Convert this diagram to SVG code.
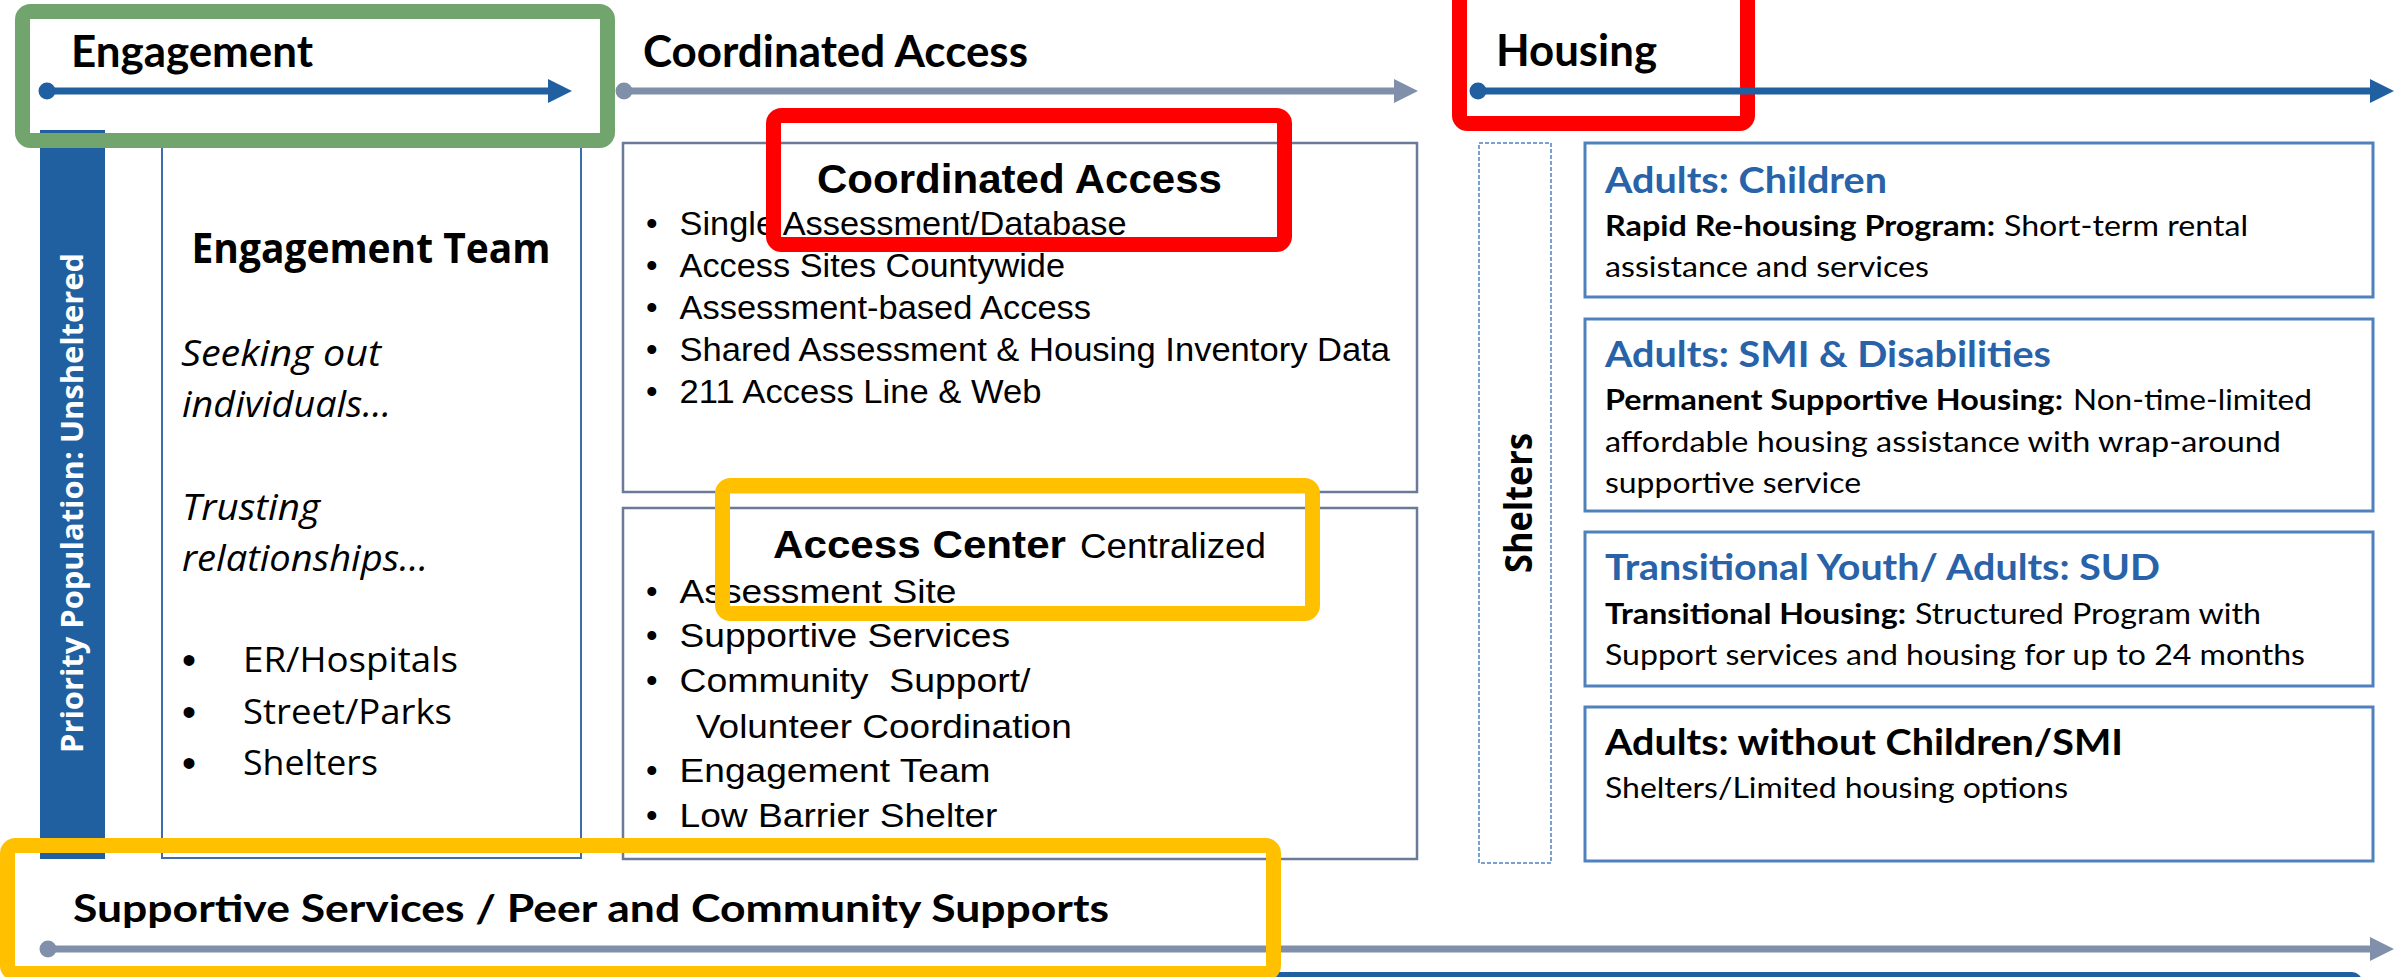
<svg xmlns="http://www.w3.org/2000/svg" width="2394" height="977" viewBox="0 0 2394 977">
<style>
.hdr{font-family:Lato,"Liberation Sans",sans-serif;font-weight:700;font-size:43px;fill:#000}
.cal{font-family:Lato,"Liberation Sans",sans-serif;font-size:29px;fill:#000}
.calb{font-family:Lato,"Liberation Sans",sans-serif;font-size:29px;font-weight:700;fill:#000}
.bh{font-family:Lato,"Liberation Sans",sans-serif;font-size:36px;font-weight:700;fill:#2862A8}
.ari{font-family:"Liberation Sans",Arial,sans-serif;font-size:33px;fill:#000}
.arib{font-family:"Liberation Sans",Arial,sans-serif;font-weight:700;fill:#000}
.seg{font-family:"Open Sans","Noto Sans",sans-serif;fill:#000}
.bul{font-family:"Liberation Sans",Arial,sans-serif;font-size:40px;fill:#000}
.panel{fill:#fff;stroke:#6A7A98;stroke-width:2.5}
.rbox{fill:#fff;stroke:#4F81BD;stroke-width:3}
.hl{fill:none;stroke-width:15}
</style>
<defs>
<marker id="dotB" markerUnits="userSpaceOnUse" markerWidth="20" markerHeight="20" refX="10" refY="10" viewBox="0 0 20 20"><circle cx="10" cy="10" r="8.5" fill="#2160A0"/></marker>
<marker id="dotG" markerUnits="userSpaceOnUse" markerWidth="20" markerHeight="20" refX="10" refY="10" viewBox="0 0 20 20"><circle cx="10" cy="10" r="8.5" fill="#808FAA"/></marker>
<marker id="headB" markerUnits="userSpaceOnUse" markerWidth="24" markerHeight="24" refX="0" refY="12" viewBox="0 0 24 24" orient="auto"><path d="M0,0 L24,12 L0,24 z" fill="#2160A0"/></marker>
<marker id="headG" markerUnits="userSpaceOnUse" markerWidth="24" markerHeight="24" refX="0" refY="12" viewBox="0 0 24 24" orient="auto"><path d="M0,0 L24,12 L0,24 z" fill="#808FAA"/></marker>
</defs>
<rect width="2394" height="977" fill="#fff"/>

<g id="bottom-bar"><rect x="900" y="972" width="1462" height="40" rx="10" fill="#2160A0"/></g>

<g id="priority-bar">
<rect x="40" y="130" width="65" height="729" fill="#2160A0"/>
<text class="seg" font-weight="700" font-size="31" style="fill:#fff" text-anchor="middle" textLength="500" lengthAdjust="spacingAndGlyphs" transform="translate(83,503) rotate(-90)">Priority Population: Unsheltered</text>
</g>

<g id="engagement-team">
<rect x="162" y="143" width="419" height="715" fill="#fff" stroke="#3E6DAF" stroke-width="2"/>
<text class="seg" font-weight="700" font-size="42" x="191.5" y="263" textLength="359" lengthAdjust="spacingAndGlyphs">Engagement Team</text>
<text class="seg" font-style="italic" font-size="37" x="181" y="366" textLength="200" lengthAdjust="spacingAndGlyphs">Seeking out</text>
<text class="seg" font-style="italic" font-size="37" x="182" y="417" textLength="209" lengthAdjust="spacingAndGlyphs">individuals…</text>
<text class="seg" font-style="italic" font-size="37" x="182" y="520" textLength="138" lengthAdjust="spacingAndGlyphs">Trusting</text>
<text class="seg" font-style="italic" font-size="37" x="182" y="571" textLength="246" lengthAdjust="spacingAndGlyphs">relationships…</text>
<text class="bul" x="182" y="674">•</text>
<text class="bul" x="182" y="726">•</text>
<text class="bul" x="182" y="777">•</text>
<text class="seg" font-size="35" x="243" y="672" textLength="215" lengthAdjust="spacingAndGlyphs">ER/Hospitals</text>
<text class="seg" font-size="35" x="243" y="724" textLength="209" lengthAdjust="spacingAndGlyphs">Street/Parks</text>
<text class="seg" font-size="35" x="243" y="775" textLength="135" lengthAdjust="spacingAndGlyphs">Shelters</text>
</g>

<g id="coordinated-access">
<rect class="panel" x="623" y="143" width="794" height="349"/>
<text class="arib" font-size="40" x="817" y="193" textLength="405" lengthAdjust="spacingAndGlyphs">Coordinated Access</text>
<text class="ari" x="646" y="235">•</text>
<text class="ari" x="646" y="277">•</text>
<text class="ari" x="646" y="319">•</text>
<text class="ari" x="646" y="361">•</text>
<text class="ari" x="646" y="403">•</text>
<text class="ari" x="679.5" y="235" textLength="447" lengthAdjust="spacingAndGlyphs">Single Assessment/Database</text>
<text class="ari" x="679.5" y="277" textLength="385.5" lengthAdjust="spacingAndGlyphs">Access Sites Countywide</text>
<text class="ari" x="679.5" y="319" textLength="411.5" lengthAdjust="spacingAndGlyphs">Assessment-based Access</text>
<text class="ari" x="679.5" y="361" textLength="710.5" lengthAdjust="spacingAndGlyphs">Shared Assessment &amp; Housing Inventory Data</text>
<text class="ari" x="679.5" y="403" textLength="362" lengthAdjust="spacingAndGlyphs">211 Access Line &amp; Web</text>
</g>

<g id="access-center">
<rect class="panel" x="623" y="508" width="794" height="351"/>
<text class="arib" font-size="39" x="773" y="558" textLength="293" lengthAdjust="spacingAndGlyphs">Access Center</text>
<text class="ari" style="font-size:35px" x="1080" y="558" textLength="186" lengthAdjust="spacingAndGlyphs">Centralized</text>
<text class="ari" x="646" y="603">•</text>
<text class="ari" x="646" y="647">•</text>
<text class="ari" x="646" y="692">•</text>
<text class="ari" x="646" y="782">•</text>
<text class="ari" x="646" y="827">•</text>
<text class="ari" x="679.5" y="603" textLength="277" lengthAdjust="spacingAndGlyphs">Assessment Site</text>
<text class="ari" x="679.5" y="647" textLength="330.5" lengthAdjust="spacingAndGlyphs">Supportive Services</text>
<text class="ari" x="679.5" y="692" xml:space="preserve" textLength="351" lengthAdjust="spacingAndGlyphs">Community  Support/</text>
<text class="ari" x="696" y="738" textLength="375.7" lengthAdjust="spacingAndGlyphs">Volunteer Coordination</text>
<text class="ari" x="679.5" y="782" textLength="311" lengthAdjust="spacingAndGlyphs">Engagement Team</text>
<text class="ari" x="679.5" y="827" textLength="318" lengthAdjust="spacingAndGlyphs">Low Barrier Shelter</text>
</g>

<g id="shelters">
<rect x="1479" y="143" width="72" height="720" fill="#fff" stroke="#4F81BD" stroke-width="1.5" stroke-dasharray="4 2"/>
<text class="seg" font-weight="700" font-size="37" text-anchor="middle" textLength="140" lengthAdjust="spacingAndGlyphs" transform="translate(1532,503) rotate(-90)">Shelters</text>
</g>

<g id="adults-children">
<rect class="rbox" x="1585" y="143" width="788" height="154"/>
<text class="bh" x="1605" y="193" textLength="282" lengthAdjust="spacingAndGlyphs">Adults: Children</text>
<text class="calb" x="1605" y="236" textLength="390" lengthAdjust="spacingAndGlyphs">Rapid Re-housing Program:</text>
<text class="cal" x="2004" y="236" textLength="244" lengthAdjust="spacingAndGlyphs">Short-term rental</text>
<text class="cal" x="1605" y="277" textLength="324" lengthAdjust="spacingAndGlyphs">assistance and services</text>
</g>

<g id="adults-smi">
<rect class="rbox" x="1585" y="319" width="788" height="192"/>
<text class="bh" x="1605" y="367" textLength="446" lengthAdjust="spacingAndGlyphs">Adults: SMI &amp; Disabilities</text>
<text class="calb" x="1605" y="410" textLength="458" lengthAdjust="spacingAndGlyphs">Permanent Supportive Housing:</text>
<text class="cal" x="2073" y="410" textLength="239" lengthAdjust="spacingAndGlyphs">Non-time-limited</text>
<text class="cal" x="1605" y="452" textLength="676" lengthAdjust="spacingAndGlyphs">affordable housing assistance with wrap-around</text>
<text class="cal" x="1605" y="493" textLength="256" lengthAdjust="spacingAndGlyphs">supportive service</text>
</g>

<g id="transitional">
<rect class="rbox" x="1585" y="532" width="788" height="154"/>
<text class="bh" x="1605" y="580" textLength="555" lengthAdjust="spacingAndGlyphs">Transitional Youth/ Adults: SUD</text>
<text class="calb" x="1605" y="624" textLength="301" lengthAdjust="spacingAndGlyphs">Transitional Housing:</text>
<text class="cal" x="1915" y="624" textLength="346" lengthAdjust="spacingAndGlyphs">Structured Program with</text>
<text class="cal" x="1605" y="665" textLength="700" lengthAdjust="spacingAndGlyphs">Support services and housing for up to 24 months</text>
</g>

<g id="adults-without">
<rect class="rbox" x="1585" y="707" width="788" height="154"/>
<text class="bh" style="fill:#000" x="1605" y="755" textLength="518" lengthAdjust="spacingAndGlyphs">Adults: without Children/SMI</text>
<text class="cal" x="1605" y="798" textLength="463" lengthAdjust="spacingAndGlyphs">Shelters/Limited housing options</text>
</g>

<g id="header-engagement"><text class="hdr" x="71" y="67" textLength="242" lengthAdjust="spacingAndGlyphs">Engagement</text></g>
<g id="header-coordinated"><text class="hdr" x="643" y="67" textLength="385" lengthAdjust="spacingAndGlyphs">Coordinated Access</text></g>
<g id="header-housing"><text class="hdr" x="1496" y="66" textLength="161" lengthAdjust="spacingAndGlyphs">Housing</text></g>

<g id="highlight-red">
<rect class="hl" stroke="#FF0000" x="773.5" y="115.5" width="511" height="129" rx="8"/>
<rect class="hl" stroke="#FF0000" x="1459.5" y="-20" width="288" height="143.5" rx="8"/>
</g>

<g id="connectors" stroke-width="7" fill="none">
<path d="M47,91 H548" stroke="#2160A0" marker-start="url(#dotB)" marker-end="url(#headB)"/>
<path d="M624,91 H1394" stroke="#808FAA" marker-start="url(#dotG)" marker-end="url(#headG)"/>
<path d="M1478,91 H2370" stroke="#2160A0" marker-start="url(#dotB)" marker-end="url(#headB)"/>
<path d="M48,949 H2370" stroke="#808FAA" marker-start="url(#dotG)" marker-end="url(#headG)"/>
</g>

<g id="highlight-green">
<rect class="hl" stroke="#72A56E" x="22.5" y="11.5" width="585" height="129" rx="8"/>
</g>

<g id="highlight-yellow">
<rect class="hl" stroke="#FFC000" x="722.5" y="485.5" width="590" height="128" rx="8"/>
<rect class="hl" stroke="#FFC000" x="7.5" y="845.5" width="1266" height="128" rx="8"/>
</g>

<g id="footer-label"><text class="hdr" style="font-size:38px" x="73" y="922" textLength="1036" lengthAdjust="spacingAndGlyphs">Supportive Services / Peer and Community Supports</text></g>
</svg>
